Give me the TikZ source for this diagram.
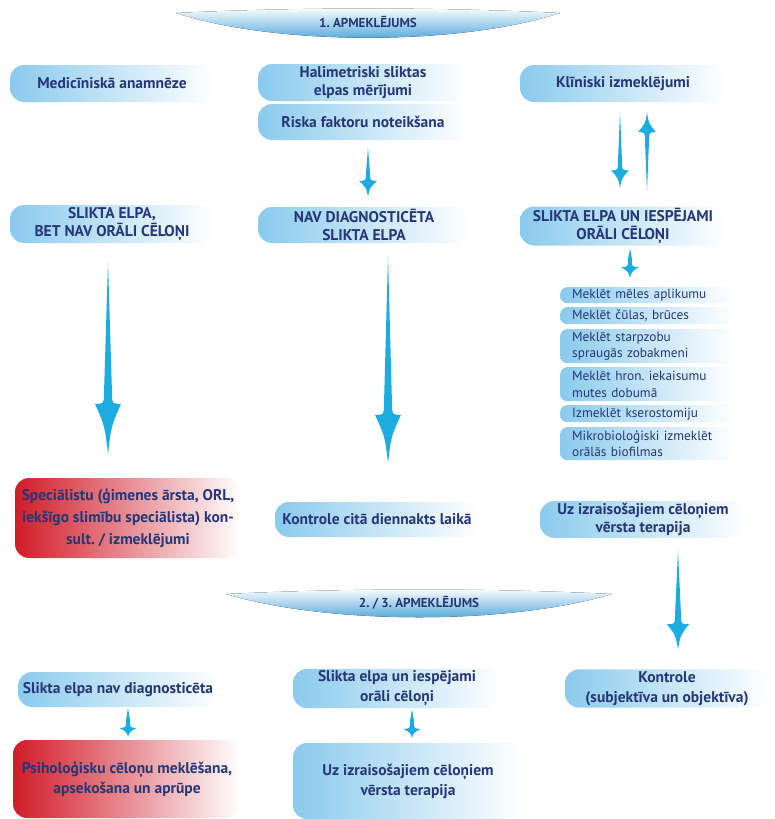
\documentclass[tikz,border=0pt]{standalone}
\usepackage{fontspec}
\setmainfont{PT Sans}
\usetikzlibrary{calc}
\frenchspacing

\definecolor{inkblue}{RGB}{38,55,120}
\definecolor{boxblue}{RGB}{138,202,237}
\definecolor{boxred}{RGB}{208,28,40}
\definecolor{boxpink}{RGB}{230,120,128}
\definecolor{bannerblue}{RGB}{50,150,212}
\definecolor{arrowmid}{RGB}{30,172,224}

\newcommand{\boxfont}{\fontsize{15.5}{17.5}\selectfont\bfseries}
\newcommand{\roomyfont}{\fontsize{15.5}{20}\selectfont\bfseries}
\newcommand{\listfont}{\fontsize{13.3}{16.5}\selectfont}
\newcommand{\bannerfont}{\fontsize{13}{14}\selectfont\bfseries}

\tikzset{
  % barb half width, head length, barb to joint, shaft half width
  flowarrow/.style n args={4}{
    fill=arrowmid,
    to path={let \p1=(\tikztostart), \p2=(\tikztotarget), \n1={ifthenelse(\y2>\y1,1,-1)} in
      -- ({\x1+#4}, {\y2-\n1*(#2+#3)})
      .. controls ({\x1+#4}, {\y2-\n1*#2}) .. ({\x1+#1}, {\y2-\n1*#2})
      .. controls ({\x1+#4*0.8}, {\y2-\n1*#2*0.55}) .. (\x1, \y2)
      .. controls ({\x1-#4*0.8}, {\y2-\n1*#2*0.55}) .. ({\x1-#1}, {\y2-\n1*#2})
      .. controls ({\x1-#4}, {\y2-\n1*#2}) .. ({\x1-#4}, {\y2-\n1*(#2+#3)})
      -- cycle}
  }
}

\begin{document}
\begin{tikzpicture}[x=1pt,y=-1pt,
    bluebox/.style={rounded corners=14pt, left color=boxblue, right color=white,
      text=inkblue, font=\boxfont, align=center, inner ysep=2pt, minimum height=37pt},
    redbox/.style={bluebox, left color=boxred, middle color=boxpink, right color=white,
      font=\roomyfont},
    smallbox/.style={rounded corners=7pt, left color=boxblue, right color=white,
      text=inkblue, font=\listfont, align=left, text width=150pt, inner xsep=12pt,
      inner ysep=1pt, anchor=north west},
    banner/.style={top color=white, bottom color=bannerblue}]
  \useasboundingbox (0,0) rectangle (775,819);

  % first visit
  \fill[banner] (176,13) .. controls (300,7) and (436,7) .. (560,13)
    .. controls (460,46) and (276,46) .. cycle;
  \node[text=inkblue, font=\bannerfont] (visit1) at (368,22) {1. APMEKLĒJUMS};

  \node[bluebox, minimum width=204pt] (anamn) at (112,83.5) {Medicīniskā anamnēze};
  \node[bluebox, minimum width=210pt] (halim) at (363,82.5) {Halimetriski sliktas\\elpas mērījumi};
  \node[bluebox, minimum width=210pt, minimum height=36pt] (riska) at (363,122) {Riska faktoru noteikšana};
  \node[bluebox, minimum width=206pt] (klin) at (623,83.5) {Klīniski izmeklējumi};

  \node[bluebox, minimum width=204pt, minimum height=38pt] (nooral) at (112,224) {SLIKTA ELPA,\\BET NAV ORĀLI CĒLOŅI};
  \node[bluebox, minimum width=212pt, minimum height=36pt] (navdiag) at (364,225) {NAV DIAGNOSTICĒTA\\SLIKTA ELPA};
  \node[bluebox, minimum width=206pt, minimum height=36pt] (oral) at (623,226) {SLIKTA ELPA UN IESPĒJAMI\\ORĀLI CĒLOŅI};

  \node[smallbox, minimum height=16pt] (look1) at (560,287) {Meklēt mēles aplikumu};
  \node[smallbox, minimum height=17pt] (look2) at (560,307) {Meklēt čūlas, brūces};
  \node[smallbox, minimum height=34pt] (look3) at (560,329) {Meklēt starpzobu\\spraugās zobakmeni};
  \node[smallbox, minimum height=34pt] (look4) at (560,367) {Meklēt hron. iekaisumu\\mutes dobumā};
  \node[smallbox, minimum height=17pt] (look5) at (560,405) {Izmeklēt kserostomiju};
  \node[smallbox, minimum height=33pt] (look6) at (560,427) {Mikrobioloģiski izmeklēt\\orālās biofilmas};

  \node[redbox, minimum width=226pt, minimum height=80pt, font=\fontsize{15.5}{22}\selectfont\bfseries] (spec) at (128,518)
    {Speciālistu (ģimenes ārsta, ORL,\\iekšīgo slimību speciālista) kon-\\sult. / izmeklējumi};
  \node[bluebox, minimum width=204pt, minimum height=35pt] (kontr) at (377,519.5) {Kontrole citā diennakts laikā};
  \node[bluebox, minimum width=206pt, minimum height=35pt, font=\fontsize{15.5}{18}\selectfont\bfseries] (terap) at (643,519.5)
    {Uz izraisošajiem cēloņiem\\vērsta terapija};

  % second / third visit
  \fill[banner] (226,594) .. controls (350,588) and (488,588) .. (612,594)
    .. controls (510,625) and (328,625) .. cycle;
  \node[text=inkblue, font=\bannerfont] (visit2) at (419,603) {2. / 3. APMEKLĒJUMS};

  \node[bluebox, minimum width=200pt, minimum height=35pt] (nodiag) at (118,689.5) {Slikta elpa nav diagnosticēta};
  \node[redbox, minimum width=228pt, minimum height=78pt] (psych) at (127,779)
    {Psiholoģisku cēloņu meklēšana,\\apsekošana un aprūpe};
  \node[bluebox, minimum width=208pt, font=\roomyfont] (oralb) at (397,688.5) {Slikta elpa un iespējami\\orāli cēloņi};
  \node[bluebox, minimum width=230pt, minimum height=76pt, font=\roomyfont] (terapb) at (408,781)
    {Uz izraisošajiem cēloņiem\\vērsta terapija};
  \node[bluebox, minimum width=204pt, font=\roomyfont] (kontrb) at (667,688.5) {Kontrole\\(subjektīva un objektīva)};

  % arrow ends
  \coordinate (riskaout) at ([xshift=5pt,yshift=-8pt]riska.south);
  \coordinate (navin) at ([xshift=5pt,yshift=10pt]navdiag.north);
  \coordinate (klinout) at ([xshift=-3pt,yshift=-10pt]klin.south);
  \coordinate (oralin) at ([xshift=-3pt,yshift=18pt]oral.north);
  \coordinate (oralback) at ([xshift=24pt,yshift=15pt]oral.north);
  \coordinate (klinin) at ([xshift=24pt,yshift=-10pt]klin.south);
  \coordinate (oralout) at ([xshift=7pt,yshift=-3pt]oral.south);
  \coordinate (lookin) at ([xshift=7pt,yshift=9pt]look1.north);
  \coordinate (nooralout) at ([xshift=-4pt,yshift=-19pt]nooral.south);
  \coordinate (specin) at ([xshift=-4pt,yshift=24pt]spec.north);
  \coordinate (navout) at ([xshift=24pt,yshift=-13pt]navdiag.south);
  \coordinate (kontrin) at ([xshift=24pt,yshift=39pt]kontr.north);
  \coordinate (terapout) at ([xshift=35pt,yshift=-13pt]terap.south);
  \coordinate (kontrbin) at ([xshift=35pt,yshift=20pt]kontrb.north);
  \coordinate (nodiagout) at ([xshift=10pt,yshift=-1pt]nodiag.south);
  \coordinate (psychin) at ([xshift=10pt,yshift=3pt]psych.north);
  \coordinate (oralbout) at ([xshift=15pt,yshift=-1pt]oralb.south);
  \coordinate (terapbin) at ([xshift=15pt,yshift=5pt]terapb.north);

  % arrows
  \path[flowarrow={9}{16}{8}{2}] (riskaout) to (navin);
  \path[flowarrow={9}{18}{9}{2}] (klinout) to (oralin);
  \path[flowarrow={9}{20}{9}{2}] (oralback) to (klinin);
  \path[flowarrow={9}{11}{9}{1.8}] (oralout) to (lookin);
  \path[flowarrow={13}{50}{11}{4}] (nooralout) to (specin);
  \path[flowarrow={13}{48}{11}{4}] (navout) to (kontrin);
  \path[flowarrow={11}{25}{9}{3}] (terapout) to (kontrbin);
  \path[flowarrow={9}{9}{9}{1.8}] (nodiagout) to (psychin);
  \path[flowarrow={9}{9}{9}{1.8}] (oralbout) to (terapbin);
\end{tikzpicture}
\end{document}
